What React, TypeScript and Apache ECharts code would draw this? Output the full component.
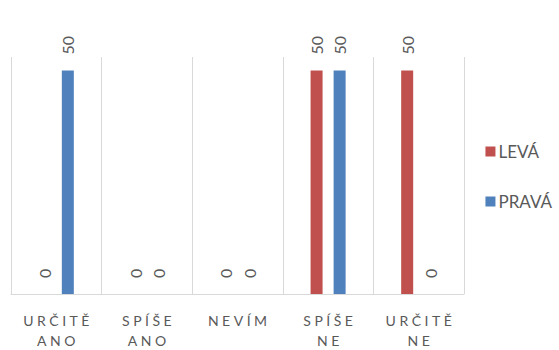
import React, { useEffect, useRef } from "react";
import * as echarts from "echarts";

const categories = ["URČITĚ\nANO", "SPÍŠE\nANO", "NEVÍM", "SPÍŠE\nNE", "URČITĚ\nNE"];
const levaValues = [0, 0, 0, 50, 50];
const pravaValues = [50, 0, 0, 50, 0];
const seriesNames = ["LEVÁ", "PRAVÁ"];
const seriesColors = ["#C0504D", "#4F81BD"];

const FONT = "Lato, 'Noto Sans', sans-serif";

export default function App() {
  const ref = useRef<HTMLDivElement>(null);
  useEffect(() => {
    document.body.style.margin = "0";
    if (!ref.current) return;
    const chart = echarts.init(ref.current, null, { renderer: "svg" });
    const label = {
      show: true,
      position: "top",
      distance: 16,
      rotate: 90,
      align: "left",
      verticalAlign: "middle",
      color: "#595959",
      fontSize: 16,
      fontFamily: FONT,
    };
    chart.setOption({
      animation: false,
      textStyle: { fontFamily: FONT },
      grid: { left: 11, right: 95, top: 57, bottom: 55 },
      legend: {
        orient: "vertical",
        right: 2,
        top: 138,
        itemWidth: 10,
        itemHeight: 10,
        itemGap: 33,
        icon: "rect",
        data: seriesNames,
        textStyle: { color: "#595959", fontSize: 17, fontFamily: FONT, padding: [0, 0, 0, -2] },
      },
      xAxis: {
        type: "category",
        data: categories,
        axisTick: { show: false },
        axisLine: { lineStyle: { color: "#D9D9D9", width: 1 } },
        splitLine: { show: true, lineStyle: { color: "#D9D9D9", width: 1 } },
        axisLabel: {
          color: "#595959",
          fontSize: 14,
          fontFamily: FONT,
          lineHeight: 20,
          margin: 16,
          formatter: (v: string) =>
            v
              .split("\n")
              .map((line) => line.split("").join("\u2005"))
              .join("\n"),
        },
      },
      yAxis: {
        type: "value",
        min: 0,
        max: 53,
        show: false,
        splitLine: { show: false },
      },
      series: [
        {
          name: seriesNames[0],
          type: "bar",
          data: levaValues,
          barWidth: 12,
          barGap: "92%",
          itemStyle: { color: seriesColors[0] },
          label,
        },
        {
          name: seriesNames[1],
          type: "bar",
          data: pravaValues,
          barWidth: 12,
          itemStyle: { color: seriesColors[1] },
          label,
        },
      ],
    });
    return () => chart.dispose();
  }, []);
  return <div ref={ref} style={{ width: 559, height: 350 }} />;
}
